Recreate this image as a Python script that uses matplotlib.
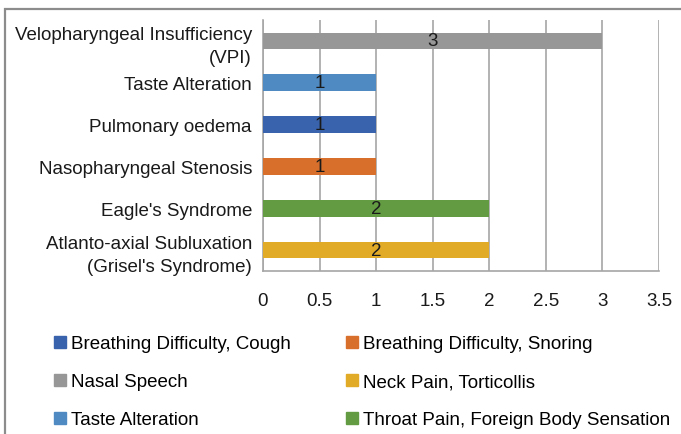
import matplotlib
matplotlib.use("Agg")
import matplotlib.pyplot as plt
from matplotlib.lines import Line2D
from matplotlib.patches import Rectangle

plt.rcParams['font.family'] = ['Liberation Sans', 'DejaVu Sans']

# data (top to bottom as shown)
categories = ["Velopharyngeal Insufficiency\n(VPI)", "Taste Alteration", "Pulmonary oedema",
              "Nasopharyngeal Stenosis", "Eagle's Syndrome",
              "Atlanto-axial Subluxation\n(Grisel's Syndrome)"]
counts = [3, 1, 1, 1, 2, 2]
symptoms = ["Nasal Speech", "Taste Alteration", "Breathing Difficulty, Cough",
            "Breathing Difficulty, Snoring", "Throat Pain, Foreign Body Sensation",
            "Neck Pain, Torticollis"]
legend_order = ["Breathing Difficulty, Cough", "Nasal Speech", "Taste Alteration",
                "Breathing Difficulty, Snoring", "Neck Pain, Torticollis",
                "Throat Pain, Foreign Body Sensation"]
colors = {
    "Nasal Speech": "#979797",
    "Taste Alteration": "#4f8bc2",
    "Breathing Difficulty, Cough": "#3a63ad",
    "Breathing Difficulty, Snoring": "#d8702b",
    "Throat Pain, Foreign Body Sensation": "#629b42",
    "Neck Pain, Torticollis": "#e2ab27",
}

fig = plt.figure(figsize=(6.81, 4.35), dpi=100)
ax = fig.add_axes([263/681, 1 - 272/435, (659 - 263)/681, (272 - 21)/435])

ypos = list(range(len(categories)))
bar_colors = [colors[s] for s in symptoms]
bars = ax.barh(ypos, counts, height=0.4, color=bar_colors, zorder=3)
for y, v in zip(ypos, counts):
    ax.text(v / 2, y, str(v), ha='center', va='center', fontsize=13.5, color='#1a1a1a', zorder=4)

ax.set_xlim(0, 3.5)
ax.set_ylim(len(categories) - 0.5, -0.5)
ax.set_xticks([0, 0.5, 1, 1.5, 2, 2.5, 3, 3.5])
ax.set_xticklabels(["0", "0.5", "1", "1.5", "2", "2.5", "3", "3.5"])
ax.set_yticks(ypos)
ax.set_yticklabels(categories, fontsize=13.5, linespacing=1.45)
ax.tick_params(axis='x', length=0, pad=15, labelsize=13.5, colors='#1a1a1a')
ax.tick_params(axis='y', length=0, pad=8, colors='#1a1a1a')
ax.grid(axis='x', color='#a6a6a6', linewidth=1.2, zorder=0)
for side in ['top', 'right']:
    ax.spines[side].set_visible(False)
for side in ['left', 'bottom']:
    ax.spines[side].set_color('#a6a6a6')
    ax.spines[side].set_linewidth(1.2)

handles = [Line2D([], [], marker='s', linestyle='none', markersize=8,
                  markerfacecolor=colors[s], markeredgecolor=colors[s], label=s)
           for s in legend_order]
fig.legend(handles=handles, ncol=2, loc='upper left', bbox_to_anchor=(54/681, 1 - 336/435),
           frameon=False, fontsize=13.5, handlelength=0.6, handletextpad=0.3,
           columnspacing=2.95, labelspacing=1.12, borderaxespad=0, borderpad=0)

# outer frame (cut at right and bottom like the reference)
fig.patches.append(Rectangle((5/681, -0.1), 1.2, 1.1 - 9.5/435, transform=fig.transFigure,
                             fill=False, edgecolor='#8c8c8c', linewidth=1.6))

fig.savefig("out.png", dpi=100)
